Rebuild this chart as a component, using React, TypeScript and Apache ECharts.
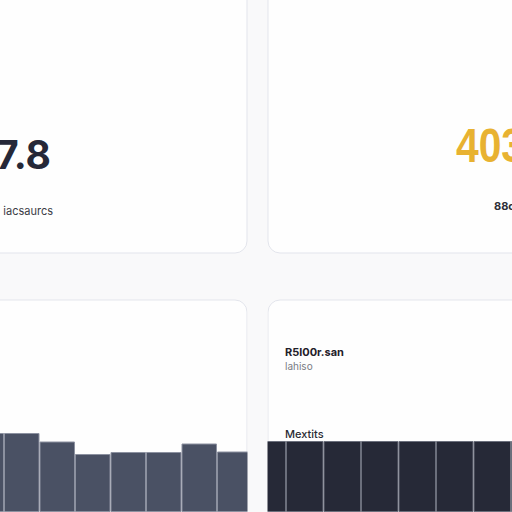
import React, { useEffect, useRef } from "react";
import * as echarts from "echarts";

// Bottom-left card: bar values (axis 0..100, partial first bar included)
const leftCategories = ["A", "B", "C", "D", "E", "F", "G", "H"];
const leftValues = [79, 79, 70.5, 58, 60, 60, 68.5, 60.5];

// Bottom-right card: uniform dark bars
const rightCategories = ["1", "2", "3", "4", "5", "6", "7", "8"];
const rightValues = [71, 71, 71, 71, 71, 71, 71, 71];

// Card texts
const kpiLeftValue = "7.8";
const kpiLeftLabel = "iacsaurcs";
const kpiRightValue = "403";
const kpiRightLabel = "88c";
const panelTitle = "R5l00r.san";
const panelSubtitle = "lahiso";
const panelAxisTitle = "Mextits";

export default function App() {
  const ref = useRef<HTMLDivElement>(null);
  useEffect(() => {
    if (!ref.current) return;
    const chart = echarts.init(ref.current, undefined, { renderer: "svg" });
    const card = (x: number, y: number, w: number, h: number) => ({
      type: "rect",
      z: -10,
      shape: { x, y, width: w, height: h, r: 12 },
      style: { fill: "#fefefe", stroke: "#e3e5ec", lineWidth: 1 },
    });
    const font = "Inter, 'Liberation Sans', Arial, sans-serif";
    chart.setOption({
      animation: false,
      backgroundColor: "#f9f9fa",
      grid: [
        { left: -31.5, width: 284, top: 412, height: 100, outerBoundsMode: "none", containLabel: false },
        { left: 248.5, width: 300, top: 412, height: 100, outerBoundsMode: "none", containLabel: false },
      ],
      xAxis: [
        { type: "category", gridIndex: 0, data: leftCategories, show: false },
        { type: "category", gridIndex: 1, data: rightCategories, show: false },
      ],
      yAxis: [
        { type: "value", gridIndex: 0, min: 0, max: 100, show: false },
        { type: "value", gridIndex: 1, min: 0, max: 100, show: false },
      ],
      series: [
        {
          type: "bar",
          xAxisIndex: 0,
          yAxisIndex: 0,
          data: leftValues,
          barCategoryGap: "0%",
          itemStyle: { color: "#4a5164", borderColor: "#8c91a0", borderWidth: 1 },
        },
        {
          type: "bar",
          xAxisIndex: 1,
          yAxisIndex: 1,
          data: rightValues,
          barCategoryGap: "0%",
          itemStyle: { color: "#262937", borderColor: "#6b6f7c", borderWidth: 1 },
        },
      ],
      graphic: [
        card(-20, -20, 267, 273),
        card(268, -20, 264, 273),
        card(-20, 300, 267, 232),
        card(268, 300, 264, 232),
        {
          type: "rect",
          z: 100,
          shape: { x: 247.5, y: 300, width: 20, height: 212 },
          style: { fill: "#f9f9fa" },
        },
        {
          type: "text",
          z: 100,
          x: 51,
          y: 154,
          style: {
            text: kpiLeftValue,
            fill: "#252838",
            font: `bold 39px ${font}`,
            textAlign: "right",
            textVerticalAlign: "middle",
          },
        },
        {
          type: "text",
          z: 100,
          x: 53,
          y: 211,
          style: {
            text: kpiLeftLabel,
            fill: "#3a3b45",
            font: `11px ${font}`,
            textAlign: "right",
            textVerticalAlign: "middle",
          },
        },
        {
          type: "text",
          z: 100,
          x: 456,
          y: 145,
          scaleX: 0.85,
          style: {
            text: kpiRightValue,
            fill: "#e8b231",
            font: `bold 48px 'Liberation Sans', Arial, sans-serif`,
            textAlign: "left",
            textVerticalAlign: "middle",
          },
        },
        {
          type: "text",
          z: 100,
          x: 494,
          y: 206,
          style: {
            text: kpiRightLabel,
            fill: "#2e2f38",
            font: `bold 11px ${font}`,
            textAlign: "left",
            textVerticalAlign: "middle",
          },
        },
        {
          type: "text",
          z: 100,
          x: 285,
          y: 352,
          style: {
            text: panelTitle,
            fill: "#1f2029",
            font: `bold 11px ${font}`,
            textAlign: "left",
            textVerticalAlign: "middle",
          },
        },
        {
          type: "text",
          z: 100,
          x: 285,
          y: 366,
          style: {
            text: panelSubtitle,
            fill: "#7a7c84",
            font: `10px ${font}`,
            textAlign: "left",
            textVerticalAlign: "middle",
          },
        },
        {
          type: "text",
          z: 100,
          x: 285,
          y: 434,
          style: {
            text: panelAxisTitle,
            fill: "#2a2b33",
            font: `500 11px ${font}`,
            textAlign: "left",
            textVerticalAlign: "middle",
          },
        },
      ],
    });
    return () => chart.dispose();
  }, []);
  return (
    <div
      ref={ref}
      style={{ position: "fixed", left: 0, top: 0, width: 512, height: 512 }}
    />
  );
}
